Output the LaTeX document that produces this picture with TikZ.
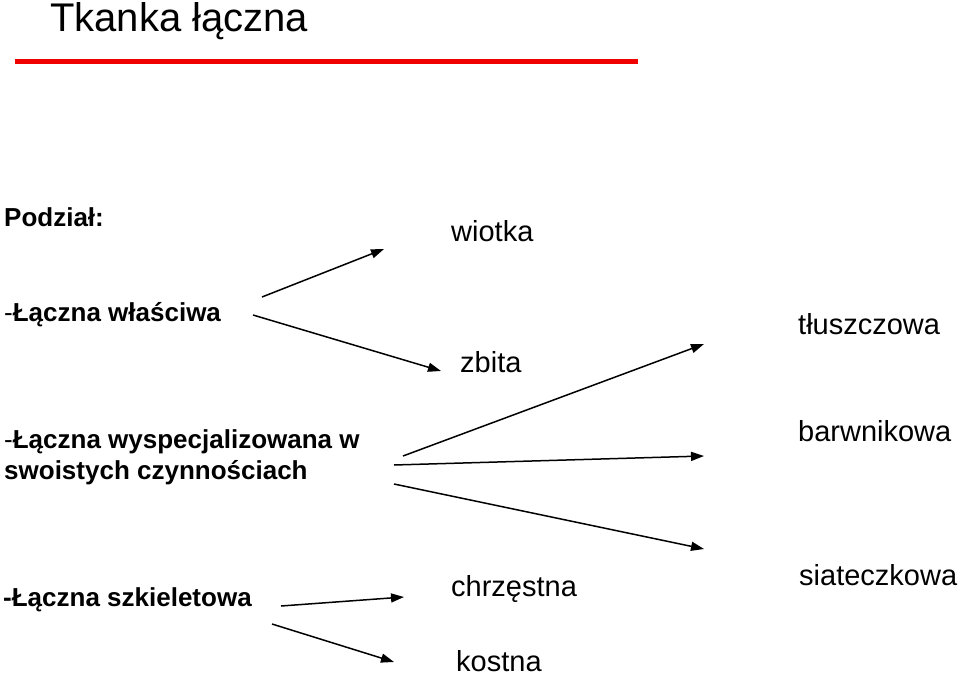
\documentclass[tikz,border=0pt]{standalone}
\usepackage{fontspec}
\setmainfont{Liberation Sans}
\usetikzlibrary{arrows.meta}
\definecolor{titlered}{RGB}{240,0,0}
\tikzset{
  lbl/.style={anchor=base west, inner sep=0pt, font=\fontsize{29bp}{34bp}\selectfont},
  blbl/.style={anchor=base west, inner sep=0pt, align=left, font=\fontsize{26bp}{31bp}\selectfont\bfseries},
  arr/.style={line width=1.5bp, -{Triangle[length=13bp,width=9bp]}},
}
\begin{document}
\begin{tikzpicture}[x=1bp,y=-1bp]
\useasboundingbox (0,0) rectangle (960,674);
% title
\node[anchor=base west, inner sep=0pt, font=\fontsize{40bp}{46bp}\selectfont] (title) at (50,32) {Tkanka łączna};
\draw[titlered, line width=5bp] (15,61.5) coordinate (r1) -- (638,61.5) coordinate (r2);
% left labels
\node[blbl] (podzial) at (4,226) {Podział:};
\node[blbl] (wlasciwa) at (4,321) {{\mdseries -}Łączna właściwa};
\node[blbl] (wysp) at (4,479) {{\mdseries -}Łączna wyspecjalizowana w\\swoistych czynnościach};
\node[blbl] (szkiel) at (3,606) {-Łączna szkieletowa};
% right labels
\node[lbl] (wiotka) at (451,241) {wiotka};
\node[lbl] (zbita) at (460,372) {zbita};
\node[lbl] (tluszcz) at (798,334) {tłuszczowa};
\node[lbl] (barwn) at (798,441) {barwnikowa};
\node[lbl] (siat) at (799,585) {siateczkowa};
\node[lbl] (chrz) at (451,596) {chrzęstna};
\node[lbl] (kostna) at (456,671) {kostna};
% arrow endpoints
\coordinate (a1s) at (262,297); \coordinate (a1e) at (384,249);
\coordinate (a2s) at (253,315); \coordinate (a2e) at (441,371);
\coordinate (a3s) at (403,456); \coordinate (a3e) at (704,344);
\coordinate (a4s) at (394,465); \coordinate (a4e) at (704,456);
\coordinate (a5s) at (394,484); \coordinate (a5e) at (704,549);
\coordinate (a6s) at (281,606); \coordinate (a6e) at (404,597);
\coordinate (a7s) at (272,624); \coordinate (a7e) at (394,662);
\draw[arr] (a1s) -- (a1e);
\draw[arr] (a2s) -- (a2e);
\draw[arr] (a3s) -- (a3e);
\draw[arr] (a4s) -- (a4e);
\draw[arr] (a5s) -- (a5e);
\draw[arr] (a6s) -- (a6e);
\draw[arr] (a7s) -- (a7e);
\end{tikzpicture}
\end{document}
